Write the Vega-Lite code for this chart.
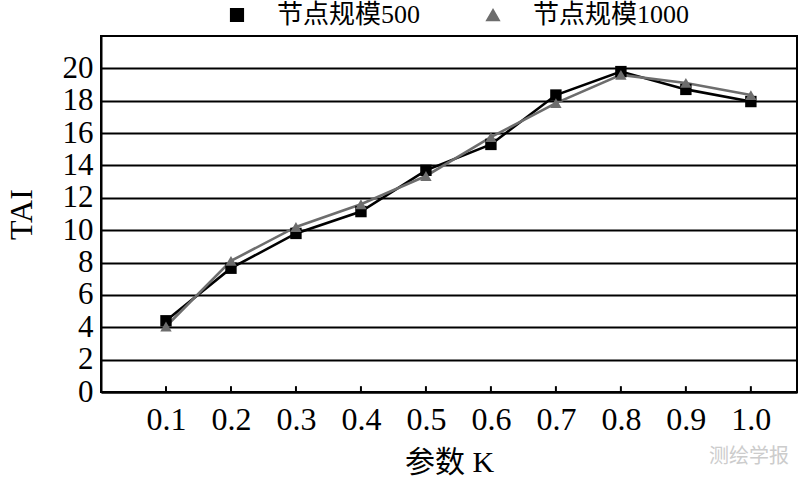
{
  "$schema": "https://vega.github.io/schema/vega-lite/v6.json",
  "width": 696,
  "height": 356,
  "autosize": {"type": "none"},
  "padding": {"left": 101, "top": 36, "right": 3, "bottom": 93},
  "background": "white",
  "config": {
    "view": {"stroke": "black", "strokeWidth": 2},
    "font": "Liberation Serif",
    "legend": {
      "title": null,
      "orient": "none",
      "direction": "horizontal",
      "legendX": 123,
      "legendY": -34,
      "padding": 0,
      "symbolSize": 160,
      "symbolOpacity": 1,
      "labelFontSize": 26,
      "labelFont": "Liberation Serif, Noto Sans CJK SC",
      "labelColor": "black",
      "labelOffset": 27,
      "columnPadding": 59,
      "labelLimit": 400
    }
  },
  "title": {
    "text": "测绘学报",
    "orient": "bottom",
    "anchor": "end",
    "color": "#cccccc",
    "fontSize": 20,
    "font": "Noto Sans CJK SC",
    "fontWeight": "normal",
    "offset": -30,
    "dx": -8
  },
  "data": {
    "values": [
      {"k": 0.1, "series": "节点规模500", "TAI": 4.4},
      {"k": 0.2, "series": "节点规模500", "TAI": 7.65},
      {"k": 0.3, "series": "节点规模500", "TAI": 9.8},
      {"k": 0.4, "series": "节点规模500", "TAI": 11.15},
      {"k": 0.5, "series": "节点规模500", "TAI": 13.7},
      {"k": 0.6, "series": "节点规模500", "TAI": 15.3},
      {"k": 0.7, "series": "节点规模500", "TAI": 18.35},
      {"k": 0.8, "series": "节点规模500", "TAI": 19.8},
      {"k": 0.9, "series": "节点规模500", "TAI": 18.7},
      {"k": 1.0, "series": "节点规模500", "TAI": 17.95},
      {"k": 0.1, "series": "节点规模1000", "TAI": 4.05},
      {"k": 0.2, "series": "节点规模1000", "TAI": 8.1},
      {"k": 0.3, "series": "节点规模1000", "TAI": 10.2},
      {"k": 0.4, "series": "节点规模1000", "TAI": 11.6},
      {"k": 0.5, "series": "节点规模1000", "TAI": 13.35},
      {"k": 0.6, "series": "节点规模1000", "TAI": 15.75},
      {"k": 0.7, "series": "节点规模1000", "TAI": 17.85},
      {"k": 0.8, "series": "节点规模1000", "TAI": 19.6},
      {"k": 0.9, "series": "节点规模1000", "TAI": 19.1},
      {"k": 1.0, "series": "节点规模1000", "TAI": 18.35}
    ]
  },
  "encoding": {
    "x": {
      "field": "k",
      "type": "quantitative",
      "scale": {"domain": [0, 1.071], "nice": false, "zero": false},
      "axis": {
        "values": [0.1, 0.2, 0.3, 0.4, 0.5, 0.6, 0.7, 0.8, 0.9, 1.0],
        "format": ".1f",
        "grid": false,
        "domain": true,
        "domainColor": "black",
        "domainWidth": 2,
        "ticks": false,
        "labelFontSize": 32,
        "labelColor": "black",
        "labelFont": "Liberation Serif",
        "labelPadding": 12,
        "title": "参数 K",
        "titleFont": "Liberation Serif, Noto Sans CJK SC",
        "titleFontSize": 30,
        "titleFontWeight": "normal",
        "titleColor": "black",
        "titlePadding": 12
      }
    },
    "y": {
      "field": "TAI",
      "type": "quantitative",
      "scale": {"domain": [0, 22], "nice": false},
      "axis": {
        "values": [0, 2, 4, 6, 8, 10, 12, 14, 16, 18, 20],
        "labelOverlap": false,
        "grid": true,
        "gridColor": "black",
        "gridWidth": 2,
        "gridOpacity": 1,
        "domain": true,
        "domainColor": "black",
        "domainWidth": 2,
        "ticks": false,
        "labelFontSize": 31,
        "labelColor": "black",
        "labelFont": "Liberation Serif",
        "labelPadding": 8,
        "title": "TAI",
        "titleFont": "Liberation Serif",
        "titleFontSize": 32,
        "titleFontWeight": "normal",
        "titleColor": "black",
        "titlePadding": 24
      }
    }
  },
  "layer": [
    {
      "transform": [{"filter": "datum.series === '节点规模500'"}],
      "mark": {"type": "rule", "color": "black", "strokeWidth": 2},
      "encoding": {
        "y": {"datum": 0},
        "y2": {"datum": 0.36}
      }
    },
    {
      "mark": {"type": "line", "strokeWidth": 2.6},
      "encoding": {
        "color": {
          "field": "series",
          "type": "nominal",
          "scale": {"domain": ["节点规模500", "节点规模1000"], "range": ["#000000", "#6d6d6d"]}
        }
      }
    },
    {
      "mark": {"type": "point", "filled": true, "opacity": 1, "size": 130},
      "encoding": {
        "color": {
          "field": "series",
          "type": "nominal",
          "scale": {"domain": ["节点规模500", "节点规模1000"], "range": ["#000000", "#6d6d6d"]}
        },
        "shape": {
          "field": "series",
          "type": "nominal",
          "scale": {"domain": ["节点规模500", "节点规模1000"], "range": ["square", "triangle-up"]}
        }
      }
    }
  ]
}
